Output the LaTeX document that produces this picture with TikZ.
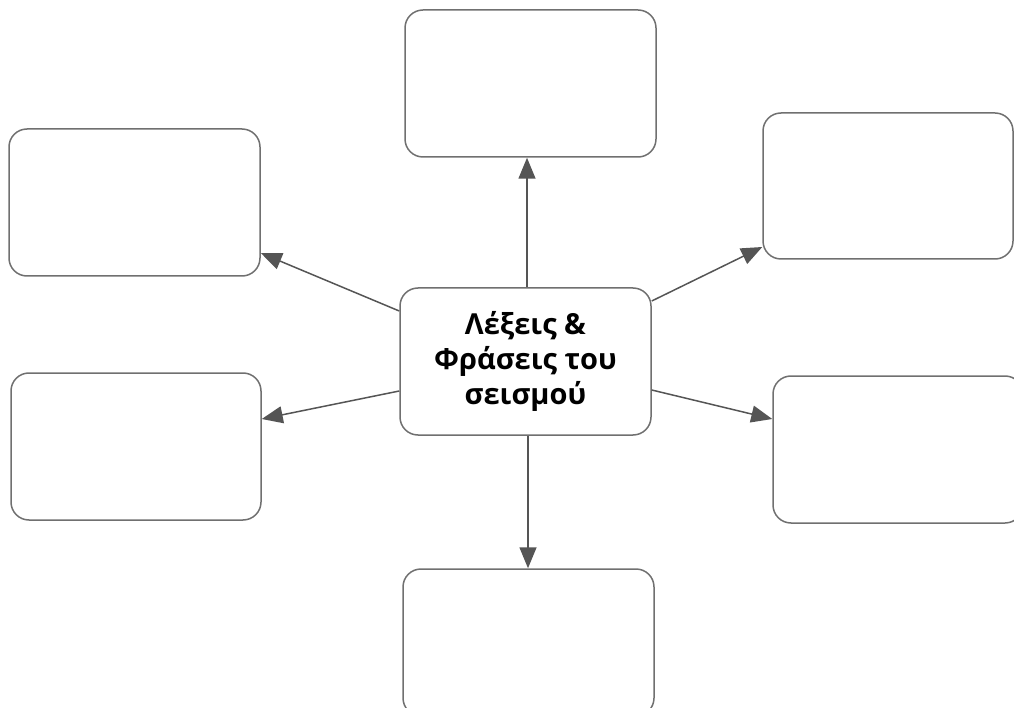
\documentclass[tikz,border=0pt]{standalone}
\usepackage{fontspec}
\setmainfont{Open Sans}
\usetikzlibrary{arrows.meta}
\definecolor{boxline}{HTML}{707070}
\definecolor{arrowline}{HTML}{555555}
\begin{document}
\begin{tikzpicture}[x=1pt,y=-1pt,
  box/.style={draw=boxline,line width=1.5pt,rounded corners=18pt,fill=white,
    minimum width=251pt,minimum height=147pt,inner sep=0pt},
  conn/.style={draw=arrowline,line width=1.5pt,-{Triangle[length=21pt,width=17pt]}}]
\useasboundingbox (0,0) rectangle (1014,708);
\node[box,align=center,font=\bfseries\fontsize{29}{35}\selectfont] (c) at (525.5,361.5) {Λέξεις \&\\Φράσεις του\\σεισμού};
\node[box] (t) at (530.5,83.5) {};
\node[box,minimum width=250pt,minimum height=146pt] (tr) at (888,186) {};
\node[box] (tl) at (134.5,202.5) {};
\node[box,minimum width=250pt] (bl) at (136,446.5) {};
\node[box,minimum width=250pt] (br) at (898,449.5) {};
\node[box] (b) at (528.5,642.5) {};
\draw[conn] ([xshift=1.5pt]c.north) -- ([xshift=-3.5pt]t.south);
\draw[conn] ([xshift=2.5pt]c.south) -- ([xshift=-0.5pt]b.north);
\draw[conn] ([yshift=50.5pt]c.west) -- ([yshift=-50.5pt]tl.east);
\draw[conn] ([yshift=-29.5pt]c.west) -- ([yshift=27.5pt]bl.east);
\draw[conn] ([yshift=60.5pt]c.east) -- ([yshift=-61pt]tr.west);
\draw[conn] ([yshift=-28.5pt]c.east) -- ([yshift=30.5pt]br.west);
\end{tikzpicture}
\end{document}
